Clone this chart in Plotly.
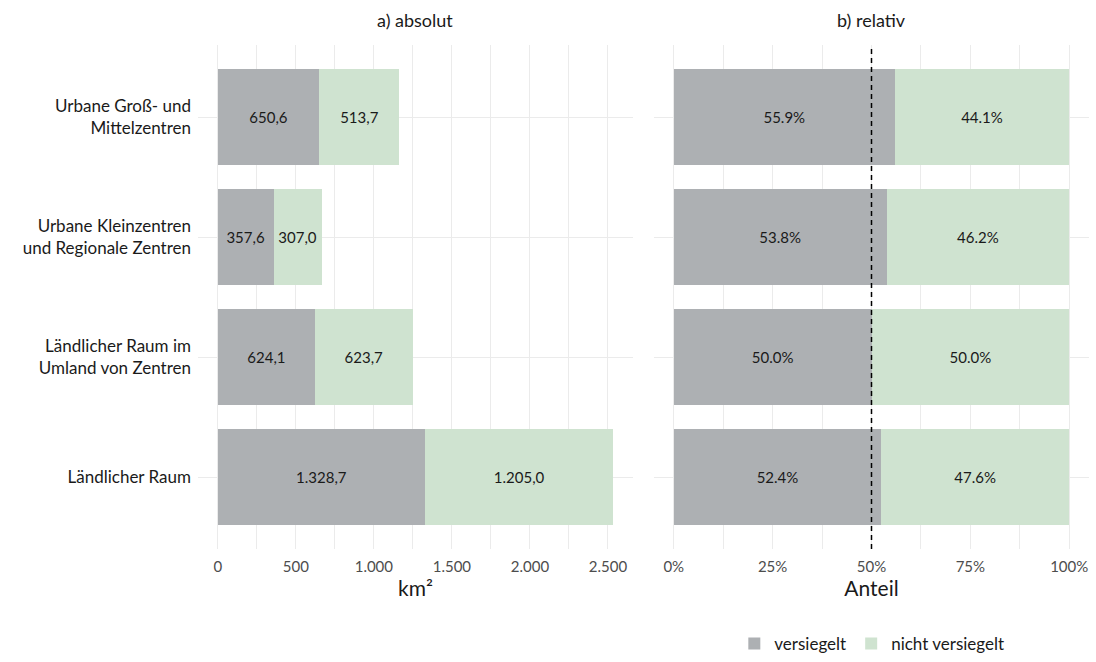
import plotly.graph_objects as go
from plotly.subplots import make_subplots

# ---- data ----
categories = [
    "Urbane Groß- und<br>Mittelzentren",
    "Urbane Kleinzentren<br>und Regionale Zentren",
    "Ländlicher Raum im<br>Umland von Zentren",
    "Ländlicher Raum",
]
versiegelt = [650.6, 357.6, 624.1, 1328.7]
nicht_versiegelt = [513.7, 307.0, 623.7, 1205.0]
series_names = ["versiegelt", "nicht versiegelt"]
abs_ticks = [0, 500, 1000, 1500, 2000, 2500]
abs_ticklabels = ["0", "500", "1.000", "1.500", "2.000", "2.500"]
rel_ticks = [0, 0.25, 0.5, 0.75, 1.0]
rel_ticklabels = ["0%", "25%", "50%", "75%", "100%"]
reference_share = 0.5

colors = ["#adb0b3", "#cfe3d0"]
FONT = "Lato"
GRID = "#ebebeb"


def de_num(v):
    s = f"{v:,.1f}"
    return s.replace(",", "X").replace(".", ",").replace("X", ".")


totals = [a + b for a, b in zip(versiegelt, nicht_versiegelt)]
share_v = [a / t for a, t in zip(versiegelt, totals)]
share_n = [b / t for b, t in zip(nicht_versiegelt, totals)]

fig = make_subplots(rows=1, cols=2, shared_yaxes=False, horizontal_spacing=0.0236)

for i, (vals, shares) in enumerate([(versiegelt, share_v), (nicht_versiegelt, share_n)]):
    fig.add_trace(go.Bar(
        y=categories, x=vals, orientation="h", name=series_names[i],
        marker=dict(color=colors[i], line=dict(width=0)),
        text=[de_num(v) for v in vals], textposition="inside",
        insidetextanchor="middle", textangle=0,
        textfont=dict(family=FONT, size=15, color="#1a1a1a"),
        width=0.8, showlegend=True, legendgroup=series_names[i],
    ), row=1, col=1)
    fig.add_trace(go.Bar(
        y=categories, x=shares, orientation="h", name=series_names[i],
        marker=dict(color=colors[i], line=dict(width=0)),
        text=[f"{s*100:.1f}%" for s in shares], textposition="inside",
        insidetextanchor="middle", textangle=0,
        textfont=dict(family=FONT, size=15, color="#1a1a1a"),
        width=0.8, showlegend=False, legendgroup=series_names[i],
    ), row=1, col=2)

maxtot = max(totals)
fig.update_layout(
    barmode="stack",
    width=1096, height=662,
    margin=dict(l=198, r=7, t=45, b=113, autoexpand=False),
    paper_bgcolor="white", plot_bgcolor="white",
    font=dict(family=FONT, size=15, color="#1a1a1a"),
    legend=dict(orientation="h", xref="container", yref="container",
                x=0.670, xanchor="left", y=-0.006, yanchor="bottom",
                font=dict(size=17, color="#1a1a1a", family=FONT),
                traceorder="normal"),
)

xcommon = dict(showgrid=True, gridcolor=GRID, gridwidth=1.3, zeroline=False,
               showline=False, ticks="", automargin=False, ticklabelstandoff=7,
               tickfont=dict(size=15, color="#4d4d4d", family=FONT),
               title_font=dict(size=21, color="#1a1a1a", family=FONT), title_standoff=5)
fig.update_xaxes(**xcommon)
fig.update_xaxes(range=[-0.05 * maxtot, 1.05 * maxtot], tickvals=abs_ticks,
                 ticktext=abs_ticklabels, title_text="km²",
                 minor=dict(dtick=250, tick0=0, showgrid=True, gridcolor=GRID, gridwidth=0.8),
                 row=1, col=1)
fig.update_xaxes(range=[-0.05, 1.05], tickvals=rel_ticks, ticktext=rel_ticklabels,
                 title_text="Anteil",
                 minor=dict(dtick=0.125, tick0=0, showgrid=True, gridcolor=GRID, gridwidth=0.8),
                 row=1, col=2)

ycommon = dict(categoryorder="array", categoryarray=list(reversed(categories)),
               range=[-0.6, 3.6], showgrid=True, gridcolor=GRID, gridwidth=1.3,
               zeroline=False, showline=False, ticks="", automargin=False)
fig.update_yaxes(**ycommon)
fig.update_yaxes(tickfont=dict(size=17, color="#1a1a1a", family=FONT),
                 ticklabelstandoff=6, row=1, col=1)
fig.update_yaxes(showticklabels=False, row=1, col=2)

fig.add_shape(type="line", xref="x2", yref="y2 domain", x0=reference_share, x1=reference_share,
              y0=0, y1=1, line=dict(color="black", width=1.5, dash="5px,4px"), layer="above")

for ref, txt in [("x domain", "a) absolut"), ("x2 domain", "b) relativ")]:
    fig.add_annotation(xref=ref, yref="paper", x=0.5, y=1, yanchor="bottom", yshift=12,
                       text=txt, showarrow=False, font=dict(size=18, color="#1a1a1a", family=FONT))

fig.write_html("out.html", config={"displayModeBar": False},
               post_script="document.body.style.margin='0';")
